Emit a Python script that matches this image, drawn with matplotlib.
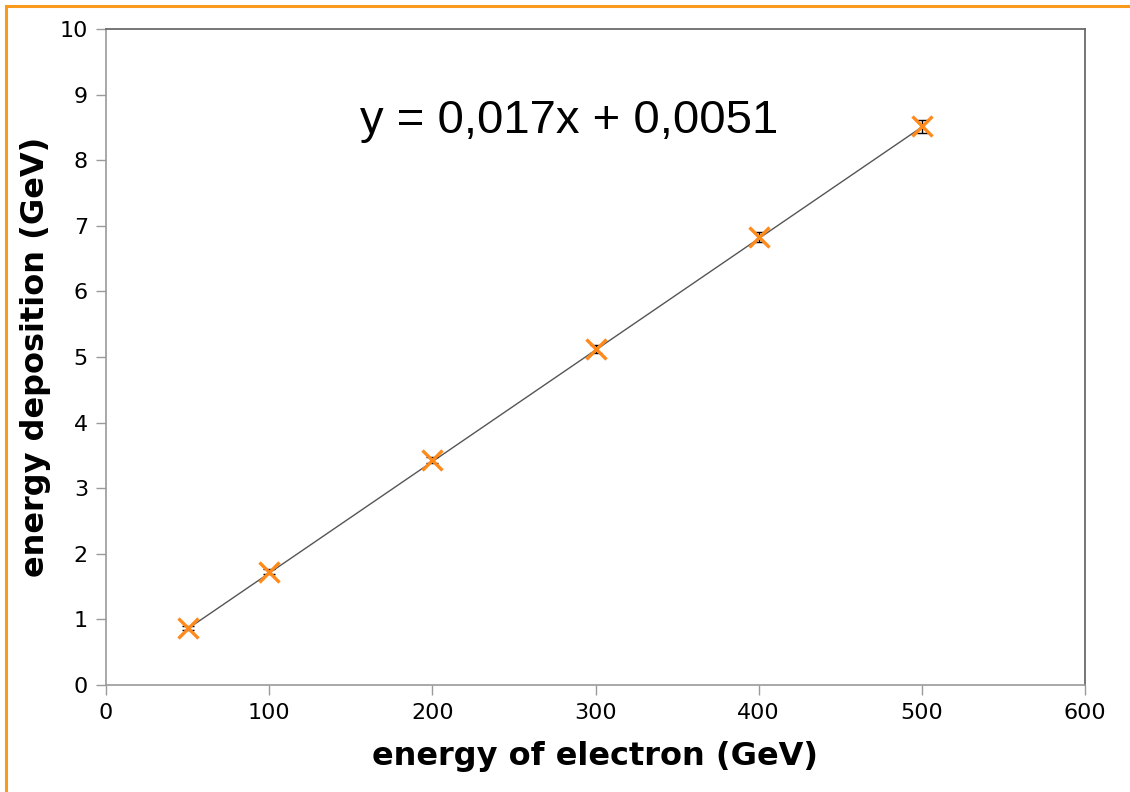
import matplotlib
matplotlib.use("Agg")
import matplotlib.pyplot as plt
from matplotlib.patches import Rectangle
import numpy as np

# beam energy vs. deposited energy
energy_in = [50, 100, 200, 300, 400, 500]
deposit = [0.87, 1.73, 3.43, 5.12, 6.83, 8.52]
deposit_err = [0.03, 0.04, 0.05, 0.06, 0.08, 0.10]

# linear trendline
slope = 0.017
intercept = 0.0051

fig = plt.figure(figsize=(11.3, 7.92), dpi=100)
ax = fig.add_axes([106 / 1130, 1 - 685 / 792, (1085 - 106) / 1130, (685 - 29) / 792])

# orange frame around the slide area (runs off the right/bottom edge)
fig.patches.append(Rectangle((5.5 / 1130, -0.1), 1.2, 1 - 5.5 / 792 + 0.1,
                             transform=fig.transFigure, fill=False,
                             edgecolor="#F99A1C", linewidth=2.2, zorder=0))

xfit = np.array([energy_in[0], energy_in[-1]])
ax.plot(xfit, slope * xfit + intercept, color="#555555", linewidth=1.0, zorder=2)

ax.errorbar(energy_in, deposit, yerr=deposit_err, fmt="none", ecolor="black",
            elinewidth=1.0, capsize=4, capthick=1.0, zorder=3)
ax.plot(energy_in, deposit, linestyle="none", marker="x", markersize=14,
        markeredgewidth=2.4, color="#FF8A1C", zorder=4)

ax.set_xlim(0, 600)
ax.set_ylim(0, 10)
ax.set_xticks(range(0, 601, 100))
ax.set_yticks(range(0, 11))

for side in ("top", "right"):
    ax.spines[side].set_color("#6a6a6a")
    ax.spines[side].set_linewidth(1.3)
for side in ("left", "bottom"):
    ax.spines[side].set_color("#9a9a9a")
    ax.spines[side].set_linewidth(1.2)
ax.tick_params(direction="out", length=7, width=1.0, color="#9a9a9a",
               labelsize=16, pad=6)

ax.set_xlabel("energy of electron (GeV)", fontsize=23, fontweight="bold", labelpad=13)
ax.set_ylabel("energy deposition (GeV)", fontsize=23, fontweight="bold", labelpad=6)

ax.text(0.259, 0.86, "y = 0,017x + 0,0051", transform=ax.transAxes,
        fontsize=34, family="Liberation Sans", va="center", ha="left")

fig.savefig("out.png", dpi=100)
